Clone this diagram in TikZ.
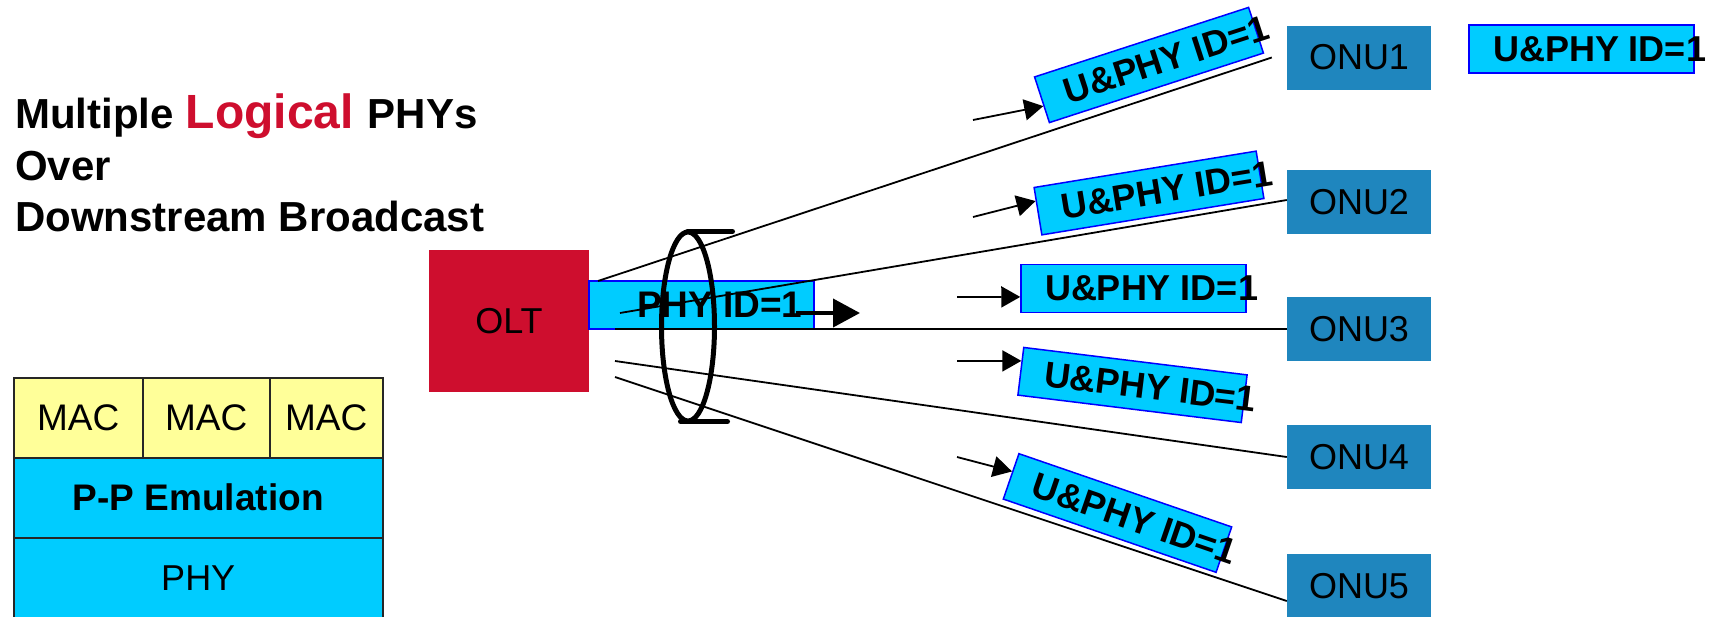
\documentclass[tikz,border=0pt]{standalone}
\usepackage{fontspec}
\setmainfont{Liberation Sans}
\usetikzlibrary{arrows.meta,shapes.geometric,calc}

\definecolor{oltred}{RGB}{206,14,46}
\definecolor{onublue}{RGB}{31,134,190}
\definecolor{phycyan}{RGB}{0,204,255}
\definecolor{macyellow}{RGB}{255,255,153}

\newcommand\fs[1]{\fontsize{#1}{#1}\selectfont}
% fixed-width label: text starts #1 from the left edge and may run past the right edge
\newcommand\idlabel[2]{\makebox[225pt][l]{\hspace{#1}#2}}

\tikzset{
  onu/.style={fill=onublue, minimum width=144pt, minimum height=64pt, inner sep=0pt, font=\fs{36}},
  idbox/.style={draw=blue, line width=1.5pt, fill=phycyan, minimum height=48pt, inner sep=0pt, font=\fs{36}\bfseries},
  fiber/.style={line width=1.8pt},
  feed/.style={line width=1.8pt, -{Triangle[length=19pt,width=21pt]}},
  lensline/.style={line width=5pt, line cap=round},
  cell/.style={draw=black!85, line width=1.5pt, inner sep=0pt, anchor=north west, font=\fs{37}},
  title/.style={anchor=base west, inner sep=0pt, font=\fs{42}\bfseries},
}

\begin{document}
\begin{tikzpicture}[x=1pt, y=-1pt]
\useasboundingbox (0,0) rectangle (1719,616);

% title
\node[title] (ttl1) at (15,128.5) {Multiple\hspace{12pt}{\color{oltred}\fs{48}Logical}\hspace{14pt}PHYs};
\node[title] (ttl2) at (15,180) {Over};
\node[title] (ttl3) at (15,231) {Downstream Broadcast};

% OLT and its physical port
\node[fill=oltred, minimum width=160pt, minimum height=142pt, inner sep=0pt, font=\fs{36}] (olt) at (509,321) {OLT};
\node[idbox, font=\fs{37}\bfseries] (phy) at (701.5,305) {\idlabel{48pt}{PHY ID=1}};

% ONUs
\node[onu] (onu1) at (1359,57.5) {ONU1};
\node[onu] (onu2) at (1359,202) {ONU2};
\node[onu] (onu3) at (1359,329) {ONU3};
\node[onu] (onu4) at (1359,457) {ONU4};
\node[onu] (onu5) at (1359,586) {ONU5};

% fibers fanning out to the ONUs
\coordinate (f1) at (598,281);
\coordinate (f2) at (620,313);
\coordinate (f3) at (615,329);
\coordinate (f4) at (615,361);
\coordinate (f5) at (615,377);
\draw[fiber] (f1) -- ([xshift=-15pt]onu1.west);
\draw[fiber] (f2) -- ([yshift=2pt]onu2.west);
\draw[fiber] (f3) -- (onu3.west);
\draw[fiber] (f4) -- (onu4.west);
\draw[fiber] (f5) -- ([yshift=-15pt]onu5.west);

% downstream arrow out of the port
\coordinate (b0) at (796,313);
\coordinate (b1) at (860,313);
\draw[line width=4pt, -{Triangle[length=27pt,width=28pt]}] (b0) -- (b1);

% bundle of logical links
\node[draw, ellipse, line width=5pt, minimum width=53pt, minimum height=189pt, inner sep=0pt] (lens) at (688,326.5) {};
\draw[lensline] ([xshift=-0.5pt,yshift=-2pt]lens.north) -- ++(45,0);
\draw[lensline] ([xshift=-7.5pt,yshift=2pt]lens.south) -- ++(47,0);

% logical PHY tags
\node[idbox, rotate=18]   (u1) at (1149,65)     {\idlabel{24pt}{U\&PHY ID=1}};
\node[idbox, rotate=9.3]  (u2) at (1149,193)    {\idlabel{24pt}{U\&PHY ID=1}};
\node[idbox]              (u3) at (1133.5,288.5) {\idlabel{24pt}{U\&PHY ID=1}};
\node[idbox, rotate=-7]   (u4) at (1132.5,385)  {\idlabel{24pt}{U\&PHY ID=1}};
\node[idbox, rotate=-19]  (u5) at (1117.5,513)  {\idlabel{24pt}{U\&PHY ID=1}};
\node[idbox]              (u0) at (1581.5,49)   {\idlabel{24pt}{U\&PHY ID=1}};

\coordinate (a1) at (973,120);
\coordinate (a2) at (973,217);
\coordinate (a3) at (957,297);
\coordinate (a4) at (957,361);
\coordinate (a5) at (957,457);
\draw[feed] (a1) -- ($(u1.north west)!0.63!(u1.south west)$);
\draw[feed] (a2) -- ($(u2.north west)!0.29!(u2.south west)$);
\draw[feed] (a3) -- ($(u3.north west)!0.67!(u3.south west)$);
\draw[feed] (a4) -- ($(u4.north west)!0.29!(u4.south west)$);
\draw[feed] (a5) -- ($(u5.north west)!0.40!(u5.south west)$);

% protocol stack
\node[cell, fill=macyellow, minimum width=129pt, minimum height=80pt] (mac1) at (13,377) {MAC};
\node[cell, fill=macyellow, minimum width=127pt, minimum height=80pt] (mac2) at (142,377) {MAC};
\node[cell, fill=macyellow, minimum width=113pt, minimum height=80pt] (mac3) at (269,377) {MAC};
\node[cell, fill=phycyan, minimum width=369pt, minimum height=80pt, font=\fs{37}\bfseries] (pp) at (13,457) {P-P Emulation};
\node[cell, fill=phycyan, minimum width=369pt, minimum height=80pt, font=\fs{36}] (phyrow) at (13,537) {PHY};
\end{tikzpicture}
\end{document}
